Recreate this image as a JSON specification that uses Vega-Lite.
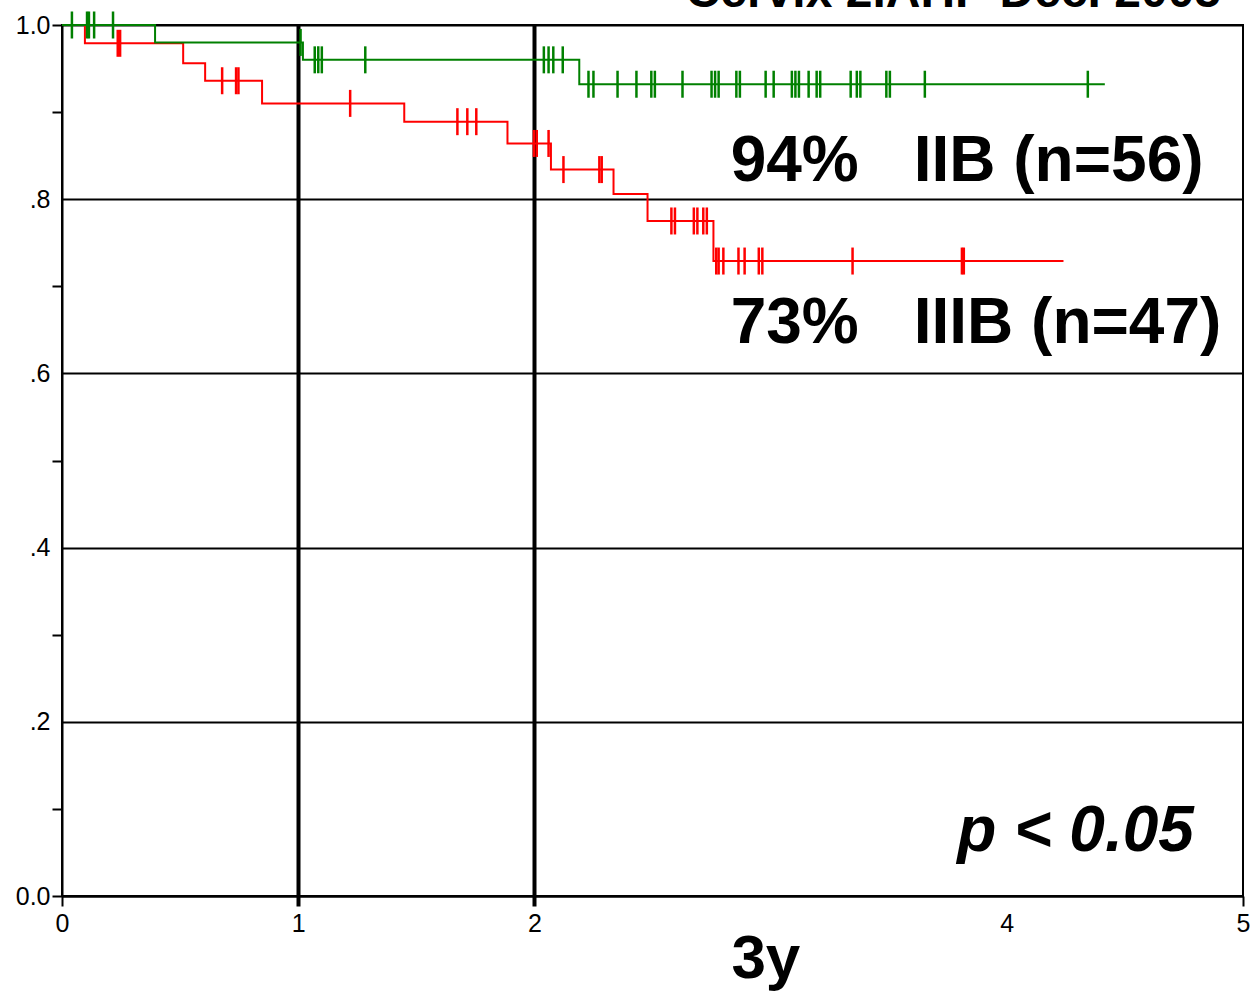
{
  "$schema": "https://vega.github.io/schema/vega-lite/v6.json",
  "autosize": {"type": "none"},
  "padding": {"left": 62, "top": 25, "right": 10, "bottom": 96},
  "width": 1181,
  "height": 871,
  "background": "white",
  "config": {
    "view": {"stroke": "black", "strokeWidth": 2},
    "font": "Liberation Sans"
  },
  "datasets": {
    "curves": [
      {"group": "IIB", "t": 0, "s": 1.0},
      {"group": "IIB", "t": 0.394, "s": 0.980},
      {"group": "IIB", "t": 1.02, "s": 0.960},
      {"group": "IIB", "t": 2.19, "s": 0.932},
      {"group": "IIB", "t": 4.415, "s": 0.932},
      {"group": "IIIB", "t": 0, "s": 1.0},
      {"group": "IIIB", "t": 0.097, "s": 0.979},
      {"group": "IIIB", "t": 0.513, "s": 0.956},
      {"group": "IIIB", "t": 0.606, "s": 0.936},
      {"group": "IIIB", "t": 0.847, "s": 0.910},
      {"group": "IIIB", "t": 1.449, "s": 0.889},
      {"group": "IIIB", "t": 1.886, "s": 0.864},
      {"group": "IIIB", "t": 2.07, "s": 0.834},
      {"group": "IIIB", "t": 2.335, "s": 0.806},
      {"group": "IIIB", "t": 2.479, "s": 0.775},
      {"group": "IIIB", "t": 2.758, "s": 0.729},
      {"group": "IIIB", "t": 4.24, "s": 0.729}
    ],
    "censored": [
      {"group": "IIB", "t": 0.042, "s": 1.0},
      {"group": "IIB", "t": 0.106, "s": 1.0},
      {"group": "IIB", "t": 0.114, "s": 1.0},
      {"group": "IIB", "t": 0.136, "s": 1.0},
      {"group": "IIB", "t": 0.216, "s": 1.0},
      {"group": "IIB", "t": 1.01, "s": 0.980},
      {"group": "IIB", "t": 1.07, "s": 0.960},
      {"group": "IIB", "t": 1.085, "s": 0.960},
      {"group": "IIB", "t": 1.10, "s": 0.960},
      {"group": "IIB", "t": 1.284, "s": 0.960},
      {"group": "IIB", "t": 2.04, "s": 0.960},
      {"group": "IIB", "t": 2.06, "s": 0.960},
      {"group": "IIB", "t": 2.08, "s": 0.960},
      {"group": "IIB", "t": 2.12, "s": 0.960},
      {"group": "IIB", "t": 2.229, "s": 0.932},
      {"group": "IIB", "t": 2.25, "s": 0.932},
      {"group": "IIB", "t": 2.352, "s": 0.932},
      {"group": "IIB", "t": 2.432, "s": 0.932},
      {"group": "IIB", "t": 2.495, "s": 0.932},
      {"group": "IIB", "t": 2.51, "s": 0.932},
      {"group": "IIB", "t": 2.627, "s": 0.932},
      {"group": "IIB", "t": 2.75, "s": 0.932},
      {"group": "IIB", "t": 2.765, "s": 0.932},
      {"group": "IIB", "t": 2.78, "s": 0.932},
      {"group": "IIB", "t": 2.855, "s": 0.932},
      {"group": "IIB", "t": 2.87, "s": 0.932},
      {"group": "IIB", "t": 2.979, "s": 0.932},
      {"group": "IIB", "t": 3.013, "s": 0.932},
      {"group": "IIB", "t": 3.09, "s": 0.932},
      {"group": "IIB", "t": 3.105, "s": 0.932},
      {"group": "IIB", "t": 3.12, "s": 0.932},
      {"group": "IIB", "t": 3.161, "s": 0.932},
      {"group": "IIB", "t": 3.195, "s": 0.932},
      {"group": "IIB", "t": 3.21, "s": 0.932},
      {"group": "IIB", "t": 3.339, "s": 0.932},
      {"group": "IIB", "t": 3.365, "s": 0.932},
      {"group": "IIB", "t": 3.38, "s": 0.932},
      {"group": "IIB", "t": 3.49, "s": 0.932},
      {"group": "IIB", "t": 3.505, "s": 0.932},
      {"group": "IIB", "t": 3.653, "s": 0.932},
      {"group": "IIB", "t": 4.343, "s": 0.932},
      {"group": "IIIB", "t": 0.236, "s": 0.979},
      {"group": "IIIB", "t": 0.246, "s": 0.979},
      {"group": "IIIB", "t": 0.678, "s": 0.936},
      {"group": "IIIB", "t": 0.737, "s": 0.936},
      {"group": "IIIB", "t": 0.747, "s": 0.936},
      {"group": "IIIB", "t": 1.22, "s": 0.910},
      {"group": "IIIB", "t": 1.674, "s": 0.889},
      {"group": "IIIB", "t": 1.716, "s": 0.889},
      {"group": "IIIB", "t": 1.754, "s": 0.889},
      {"group": "IIIB", "t": 1.998, "s": 0.864},
      {"group": "IIIB", "t": 2.01, "s": 0.864},
      {"group": "IIIB", "t": 2.06, "s": 0.864},
      {"group": "IIIB", "t": 2.123, "s": 0.834},
      {"group": "IIIB", "t": 2.275, "s": 0.834},
      {"group": "IIIB", "t": 2.285, "s": 0.834},
      {"group": "IIIB", "t": 2.58, "s": 0.775},
      {"group": "IIIB", "t": 2.595, "s": 0.775},
      {"group": "IIIB", "t": 2.675, "s": 0.775},
      {"group": "IIIB", "t": 2.69, "s": 0.775},
      {"group": "IIIB", "t": 2.715, "s": 0.775},
      {"group": "IIIB", "t": 2.73, "s": 0.775},
      {"group": "IIIB", "t": 2.77, "s": 0.729},
      {"group": "IIIB", "t": 2.78, "s": 0.729},
      {"group": "IIIB", "t": 2.80, "s": 0.729},
      {"group": "IIIB", "t": 2.864, "s": 0.729},
      {"group": "IIIB", "t": 2.89, "s": 0.729},
      {"group": "IIIB", "t": 2.95, "s": 0.729},
      {"group": "IIIB", "t": 2.965, "s": 0.729},
      {"group": "IIIB", "t": 3.347, "s": 0.729},
      {"group": "IIIB", "t": 3.81, "s": 0.729},
      {"group": "IIIB", "t": 3.818, "s": 0.729}
    ],
    "labels": [
      {"t": 2.831, "s": 0.821, "label": "94%"},
      {"t": 3.606, "s": 0.821, "label": "IIB (n=56)"},
      {"t": 2.831, "s": 0.635, "label": "73%"},
      {"t": 3.606, "s": 0.635, "label": "IIIB (n=47)"}
    ],
    "pval": [{"t": 4.792, "s": 0.0517, "label": "p < 0.05"}],
    "xlab": [{"t": 2.98, "s": -0.094, "label": "3y"}],
    "title": [{"t": 4.907, "s": 1.0207, "label": "Cervix 2.AHP Dec. 2005"}]
  },
  "encoding": {
    "x": {
      "field": "t", "type": "quantitative",
      "scale": {"domain": [0, 5], "nice": false, "zero": false},
      "axis": {
        "title": null,
        "values": [0, 1, 2, 3, 4, 5],
        "labelExpr": "datum.value == 3 ? '' : datum.label",
        "labelFont": "Liberation Sans",
        "labelFontSize": 25,
        "labelColor": "black",
        "labelPadding": 5,
        "labelFlush": false,
        "domainColor": "black",
        "domainWidth": 2,
        "tickColor": "black",
        "tickSize": 10,
        "tickWidth": {"condition": {"test": "datum.value == 1 || datum.value == 2", "value": 4}, "value": 2},
        "tickOpacity": {"condition": {"test": "datum.value == 3 || datum.value == 4", "value": 0}, "value": 1},
        "grid": true,
        "gridColor": "black",
        "gridWidth": 4,
        "gridOpacity": {"condition": {"test": "datum.value == 1 || datum.value == 2", "value": 1}, "value": 0}
      }
    },
    "y": {
      "field": "s", "type": "quantitative",
      "scale": {"domain": [0, 1], "nice": false, "zero": false},
      "axis": {
        "title": null,
        "values": [0, 0.1, 0.2, 0.3, 0.4, 0.5, 0.6, 0.7, 0.8, 0.9, 1.0],
        "labelExpr": "round(datum.value*10) % 2 == 1 ? '' : (datum.value == 1 ? '1.0' : (datum.value == 0 ? '0.0' : '.' + round(datum.value*10)))",
        "labelFont": "Liberation Sans",
        "labelFontSize": 25,
        "labelColor": "black",
        "labelPadding": 2,
        "labelFlush": false,
        "domainColor": "black",
        "domainWidth": 2,
        "tickColor": "black",
        "tickSize": 10,
        "tickWidth": 2,
        "tickOpacity": {"condition": {"test": "round(datum.value*10) % 2 == 1 || datum.value == 1 || datum.value == 0", "value": 1}, "value": 0},
        "grid": true,
        "gridColor": "black",
        "gridWidth": 2,
        "gridOpacity": {"condition": {"test": "round(datum.value*10) % 2 == 0", "value": 1}, "value": 0}
      }
    }
  },
  "layer": [
    {
      "data": {"name": "curves"},
      "transform": [{"filter": "datum.group == 'IIIB'"}],
      "mark": {"type": "line", "interpolate": "step-after", "color": "#ff0000", "strokeWidth": 2}
    },
    {
      "data": {"name": "curves"},
      "transform": [{"filter": "datum.group == 'IIB'"}],
      "mark": {"type": "line", "interpolate": "step-after", "color": "#008000", "strokeWidth": 2}
    },
    {
      "data": {"name": "censored"},
      "mark": {"type": "tick", "orient": "vertical", "size": 27, "thickness": 2.5, "opacity": 1},
      "encoding": {
        "color": {"field": "group", "type": "nominal", "scale": {"domain": ["IIB", "IIIB"], "range": ["#008000", "#ff0000"]}, "legend": null}
      }
    },
    {
      "data": {"name": "labels"},
      "mark": {"type": "text", "align": "left", "baseline": "alphabetic", "font": "Liberation Sans", "fontWeight": "bold", "fontSize": 64, "color": "black", "clip": false},
      "encoding": {"text": {"field": "label"}}
    },
    {
      "data": {"name": "pval"},
      "mark": {"type": "text", "align": "right", "baseline": "alphabetic", "font": "Liberation Sans", "fontWeight": "bold", "fontStyle": "italic", "fontSize": 64, "color": "black", "clip": false},
      "encoding": {"text": {"field": "label"}}
    },
    {
      "data": {"name": "xlab"},
      "mark": {"type": "text", "align": "center", "baseline": "alphabetic", "font": "Liberation Sans", "fontWeight": "bold", "fontSize": 62, "color": "black", "clip": false},
      "encoding": {"text": {"field": "label"}}
    },
    {
      "data": {"name": "title"},
      "mark": {"type": "text", "align": "right", "baseline": "alphabetic", "font": "Liberation Sans", "fontWeight": "bold", "fontSize": 48, "color": "black", "clip": false},
      "encoding": {"text": {"field": "label"}}
    }
  ]
}
